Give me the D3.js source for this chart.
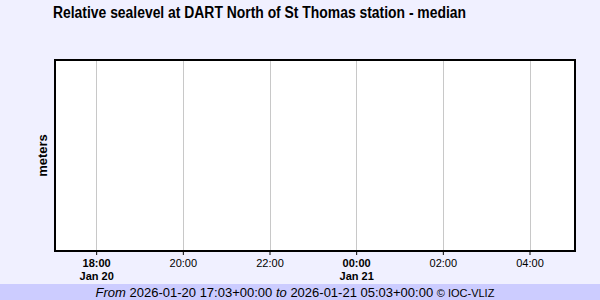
<!DOCTYPE html>
<html>
<head>
<meta charset="utf-8">
<script src="https://cdn.jsdelivr.net/npm/d3@7"></script>
<style>
  body { margin: 0; background: #f0f0ff; }
  svg { display: block; font-family: Arial, "Liberation Sans", sans-serif; }
</style>
</head>
<body>
<div id="chart"></div>
<script>
const title = "Relative sealevel at DART North of St Thomas station - median";
const yLabel = "meters";
const timeDomain = ["2026-01-20T17:03:00Z", "2026-01-21T05:03:00Z"];
const tickTimes = ["2026-01-20T18:00:00Z", "2026-01-20T20:00:00Z", "2026-01-20T22:00:00Z",
  "2026-01-21T00:00:00Z", "2026-01-21T02:00:00Z", "2026-01-21T04:00:00Z"];
const dayLabels = { "2026-01-20T18:00:00Z": "Jan 20", "2026-01-21T00:00:00Z": "Jan 21" };
const footerFrom = "2026-01-20 17:03+00:00";
const footerTo = "2026-01-21 05:03+00:00";
const credit = "© IOC-VLIZ";

const width = 600, height = 300;
const margin = { top: 60, right: 25, bottom: 49, left: 55 };
const innerW = width - margin.left - margin.right;
const innerH = height - margin.top - margin.bottom;

const dayKey = (d) => d.toISOString().replace(".000", "");

const svg = d3.select("#chart").append("svg")
  .attr("width", width).attr("height", height);

svg.append("rect").attr("width", width).attr("height", height).attr("fill", "#f0f0ff");
svg.append("rect").attr("y", 284).attr("width", width).attr("height", 16).attr("fill", "#ccccff");

const x = d3.scaleUtc()
  .domain(timeDomain.map((d) => new Date(d)))
  .range([margin.left, margin.left + innerW]);

const ticks = tickTimes.map((d) => new Date(d));

svg.append("rect")
  .attr("x", margin.left).attr("y", margin.top)
  .attr("width", innerW).attr("height", innerH)
  .attr("fill", "#ffffff");

svg.append("g")
  .selectAll("line")
  .data(ticks)
  .join("line")
  .attr("x1", (d) => Math.round(x(d)) + 0.5)
  .attr("x2", (d) => Math.round(x(d)) + 0.5)
  .attr("y1", margin.top)
  .attr("y2", margin.top + innerH)
  .attr("stroke", "#c8c8c8");

const axis = svg.append("g")
  .attr("transform", `translate(0,${margin.top + innerH})`)
  .call(d3.axisBottom(x).tickValues(ticks).tickSize(4).tickPadding(4)
    .tickFormat(d3.utcFormat("%H:%M")));
axis.select(".domain").remove();
axis.selectAll(".tick line").attr("stroke", "#000");
axis.selectAll(".tick text")
  .attr("font-size", 11)
  .attr("font-family", "Arial, 'Liberation Sans', sans-serif")
  .attr("fill", "#000")
  .attr("font-weight", (d) => dayLabels[dayKey(d)] ? "bold" : "normal");
axis.selectAll(".tick")
  .filter((d) => dayLabels[dayKey(d)])
  .append("text")
  .attr("y", 21)
  .attr("dy", "0.71em")
  .attr("fill", "#000")
  .attr("font-size", 11)
  .attr("font-weight", "bold")
  .attr("font-family", "Arial, 'Liberation Sans', sans-serif")
  .text((d) => dayLabels[dayKey(d)]);

svg.append("rect")
  .attr("x", margin.left).attr("y", margin.top)
  .attr("width", innerW).attr("height", innerH)
  .attr("fill", "none").attr("stroke", "#000").attr("stroke-width", 2);

// title glyphs in the reference are tall but narrow, so squeeze to its width
svg.append("text")
  .attr("x", 53).attr("y", 18)
  .attr("font-size", 16).attr("font-weight", "bold")
  .attr("textLength", 413)
  .attr("lengthAdjust", "spacingAndGlyphs")
  .text(title);

svg.append("text")
  .attr("transform", `translate(47,${margin.top + innerH / 2}) rotate(-90)`)
  .attr("text-anchor", "middle")
  .attr("font-size", 13).attr("font-weight", "bold")
  .text(yLabel);

const footer = svg.append("text")
  .attr("x", 295).attr("y", 297)
  .attr("text-anchor", "middle")
  .attr("font-size", 13);
footer.append("tspan").attr("font-style", "italic").text("From ");
footer.append("tspan").text(footerFrom + " ");
footer.append("tspan").attr("font-style", "italic").text("to ");
footer.append("tspan").text(footerTo + " ");
footer.append("tspan").attr("font-size", 11).text(credit);
</script>
</body>
</html>
